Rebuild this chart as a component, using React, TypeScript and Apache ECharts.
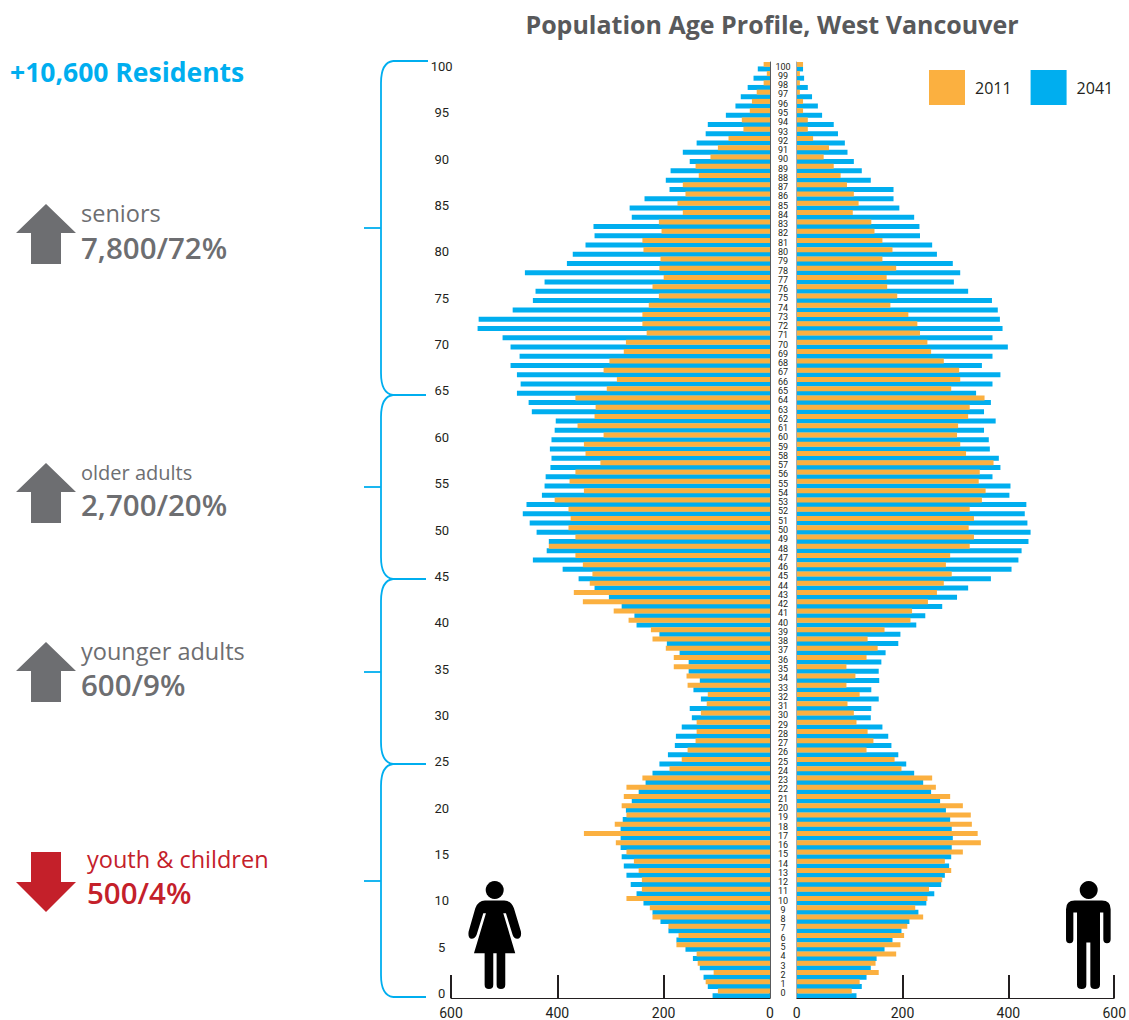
import React, { useEffect, useRef } from "react";
import * as echarts from "echarts";

const ages = Array.from({ length: 101 }, (_, i) => String(i));

// values listed from age 100 down to age 0
const female2011 = [12,6,12,25,34,38,53,50,78,98,112,140,134,164,159,174,164,209,204,240,238,206,208,200,221,
209,228,240,240,232,271,275,302,313,288,307,366,328,330,362,313,350,347,319,366,377,350,405,379,375,
379,366,416,366,352,334,339,369,352,294,266,224,221,196,181,181,157,155,117,119,130,138,138,140,155,166,
189,240,270,275,279,270,292,350,290,270,256,247,241,241,270,226,221,191,172,176,138,136,106,121,98];
const female2041 = [23,31,42,55,65,83,117,121,138,164,151,187,196,189,236,264,260,332,330,347,371,382,461,424,441,
446,484,548,550,503,488,471,488,476,469,476,454,448,403,405,411,414,411,413,422,424,429,458,465,452,
439,416,420,446,390,360,330,303,279,255,251,208,194,170,153,153,132,144,130,151,147,166,177,179,192,208,
221,234,247,260,271,277,281,281,281,279,275,270,262,251,238,221,206,191,176,159,145,132,125,117,108];
const male2011 = [12,6,6,6,12,12,21,21,31,61,51,70,83,95,108,117,106,141,147,162,181,162,188,170,171,
190,177,211,228,233,247,254,278,307,309,292,355,327,324,305,303,309,320,372,346,344,357,350,327,335,
325,335,327,290,282,293,278,265,248,218,215,166,134,153,132,94,111,94,119,96,108,113,134,145,132,185,
198,256,263,290,314,329,331,342,348,314,280,292,275,250,247,224,239,209,203,196,188,149,155,119,104];
const male2041 = [12,14,21,29,40,48,70,78,91,96,108,123,140,183,183,194,222,232,233,256,265,295,309,297,324,
369,380,384,389,370,399,370,350,385,370,339,367,354,376,354,363,365,382,385,370,404,402,434,431,436,
442,438,425,419,406,367,324,303,275,243,226,196,192,168,160,155,156,141,155,141,140,162,173,179,192,207,
222,239,254,271,282,290,293,295,293,292,288,280,273,260,245,230,213,198,181,166,151,140,132,123,113];

const years = ["2011", "2041"];
const xTicks = [0, 200, 400, 600];

const ORANGE = "#fbb040";
const BLUE = "#00aeef";
const GREY = "#6d6e71";
const RED = "#c4202a";
const UI = "'Open Sans', Lato, sans-serif";
const NARROW = "Roboto, 'Noto Sans', sans-serif";

const byAge = (a: number[]) => [...a].reverse();

const braces = [
  { top: 61, mid: 228, bottom: 395 },
  { top: 395, mid: 487, bottom: 579 },
  { top: 579, mid: 672, bottom: 764 },
  { top: 764, mid: 881, bottom: 997 },
];

const stats = [
  { y: 204, dir: 1, color: GREY, label: "seniors", size: 23.5, value: "7,800/72%", tx: 81, ly: 213, vy: 247 },
  { y: 463, dir: 1, color: GREY, label: "older adults", size: 20, value: "2,700/20%", tx: 81, ly: 472, vy: 504 },
  { y: 642, dir: 1, color: GREY, label: "younger adults", size: 23.5, value: "600/9%", tx: 81, ly: 651, vy: 684 },
  { y: 852, dir: -1, color: RED, label: "youth & children", size: 23.5, value: "500/4%", tx: 87, ly: 859, vy: 892 },
];

const WOMAN =
  "M135 422L193 422Q213 422 222 445L243 515Q246 535 232 537Q222 537 218 525L198 460L190 460L226 580L196 580L196 675Q196 688 183 688Q170 688 170 675L170 580L160 580L160 675Q160 688 147 688Q134 688 134 675L134 580L102 580L138 460L130 460L110 525Q105 537 95 537Q83 535 86 515L106 445Q115 422 135 422Z";
const MAN =
  "M945 422L1027 422Q1053 422 1053 448L1053 538Q1053 550 1042 550Q1031 550 1031 538L1031 458L1021 458L1021 675Q1021 688 1006 688Q992 688 992 675L992 548L980 548L980 675Q980 688 966 688Q952 688 952 675L952 458L941 458L941 538Q941 550 930 550Q919 550 919 538L919 448Q919 422 945 422Z";

echarts.graphic.registerShape("woman", echarts.graphic.extendPath(WOMAN, {}));
echarts.graphic.registerShape("man", echarts.graphic.extendPath(MAN, {}));

function braceElements() {
  const out: any[] = [];
  const line = { stroke: BLUE, lineWidth: 1.8, fill: "none" };
  const x = 381;
  for (const b of braces) {
    const r = 22;
    out.push({
      type: "bezierCurve", silent: true,
      shape: { x1: x + 12, y1: b.top, x2: x, y2: b.top + r, cpx1: x + 4, cpy1: b.top + 1, cpx2: x, cpy2: b.top + 9 },
      style: line,
    });
    out.push({ type: "line", silent: true, shape: { x1: x, y1: b.top + r, x2: x, y2: b.bottom - r }, style: line });
    out.push({
      type: "bezierCurve", silent: true,
      shape: { x1: x, y1: b.bottom - r, x2: x + 12, y2: b.bottom, cpx1: x, cpy1: b.bottom - 9, cpx2: x + 4, cpy2: b.bottom - 1 },
      style: line,
    });
    out.push({ type: "line", silent: true, shape: { x1: 364, y1: b.mid, x2: x, y2: b.mid }, style: line });
    out.push({ type: "line", silent: true, shape: { x1: x + 12, y1: b.bottom, x2: 426, y2: b.bottom }, style: line });
  }
  out.push({ type: "line", silent: true, shape: { x1: x + 12, y1: 61, x2: 428, y2: 61 }, style: line });
  return out;
}

function statElements() {
  const out: any[] = [];
  for (const s of stats) {
    const d = s.dir;
    const y0 = s.y;
    const pts =
      d > 0
        ? [[46, y0], [76, y0 + 29], [61, y0 + 29], [61, y0 + 60], [31, y0 + 60], [31, y0 + 29], [16, y0 + 29]]
        : [[31, y0], [61, y0], [61, y0 + 30], [76, y0 + 30], [46, y0 + 60], [16, y0 + 30], [31, y0 + 30]];
    out.push({ type: "polygon", silent: true, shape: { points: pts }, style: { fill: s.color } });
    out.push({
      type: "text", silent: true, x: s.tx, y: s.ly,
      style: { text: s.label, fill: s.color, font: `400 ${s.size}px ${UI}`, verticalAlign: "middle" },
    });
    out.push({
      type: "text", silent: true, x: s.tx, y: s.vy,
      style: { text: s.value, fill: s.color, font: `600 29.5px ${UI}`, verticalAlign: "middle" },
    });
  }
  return out;
}

export default function App() {
  const ref = useRef<HTMLDivElement>(null);
  useEffect(() => {
    const chart = echarts.init(ref.current!, undefined, { renderer: "svg" });
    const xAxisBase = {
      type: "value",
      min: 0,
      max: 600,
      interval: 200,
      position: "bottom",
      splitLine: { show: false },
      axisLine: { show: true, lineStyle: { color: "#231f20", width: 1 } },
      axisTick: { show: true, inside: true, length: 23, lineStyle: { color: "#231f20", width: 2 } },
      axisLabel: {
        margin: 8,
        color: "#231f20",
        fontFamily: NARROW,
        fontSize: 14,
        lineHeight: 14,
        formatter: (v: number) => (xTicks.includes(v) ? String(v) : ""),
      },
    };
    const bar = (name: string, data: number[], color: string, idx: number, z: number) => ({
      name,
      type: "bar",
      xAxisIndex: idx,
      yAxisIndex: idx,
      data,
      barWidth: 5,
      barGap: "-8%",
      z,
      itemStyle: { color },
      silent: true,
      animation: false,
    });
    chart.setOption({
      animation: false,
      title: {
        text: "Population Age Profile, West Vancouver",
        left: 767,
        top: 6,
        textAlign: "center",
        textStyle: { fontFamily: UI, fontWeight: 700, fontSize: 25, color: "#58595b" },
      },
      legend: {
        data: years,
        left: 929,
        top: 70,
        width: 195,
        padding: 0,
        itemWidth: 36,
        itemHeight: 35,
        itemGap: 19,
        icon: "rect",
        selectedMode: false,
        textStyle: { fontFamily: UI, fontSize: 16, color: "#231f20", padding: [0, 0, 0, 5] },
      },
      grid: [
        { left: 451, width: 319, top: 62, bottom: 22, containLabel: false },
        { left: 796.7, width: 319, top: 62, bottom: 22, containLabel: false },
      ],
      xAxis: [
        { ...xAxisBase, gridIndex: 0, inverse: true },
        { ...xAxisBase, gridIndex: 1 },
      ],
      yAxis: [
        {
          type: "category",
          gridIndex: 0,
          position: "right",
          data: ages,
          z: 4,
          axisLine: { show: true, onZero: false, lineStyle: { color: "#58595b", width: 1 } },
          axisTick: { show: false },
          axisLabel: {
            interval: 0,
            align: "center",
            margin: 13,
            fontFamily: NARROW,
            fontSize: 9,
            lineHeight: 9,
            color: "#231f20",
          },
        },
        {
          type: "category",
          gridIndex: 1,
          position: "left",
          data: ages,
          z: 4,
          axisLine: { show: true, onZero: false, lineStyle: { color: "#a7a9ac", width: 1 } },
          axisTick: { show: false },
          axisLabel: {
            interval: (i: number) => i % 5 === 0,
            align: "center",
            margin: 355,
            fontFamily: NARROW,
            fontSize: 13,
            color: "#231f20",
            padding: [0, 0, 16, 0],
          },
        },
      ],
      series: [
        bar("2011", byAge(female2011), ORANGE, 0, 3),
        bar("2041", byAge(female2041), BLUE, 0, 2),
        bar("2011", byAge(male2011), ORANGE, 1, 3),
        bar("2041", byAge(male2041), BLUE, 1, 2),
      ],
      graphic: {
        elements: [
          {
            type: "text", silent: true, x: 10, y: 72,
            style: { text: "+10,600 Residents", fill: BLUE, font: `700 26.5px ${UI}`, verticalAlign: "middle" },
          },
          ...braceElements(),
          ...statElements(),
          { type: "circle", silent: true, shape: { cx: 494.7, cy: 890, r: 9 }, style: { fill: "#000" } },
          { type: "woman", silent: true, x: 440, y: 760, scaleX: 1 / 3, scaleY: 1 / 3, style: { fill: "#000" } },
          { type: "circle", silent: true, shape: { cx: 1088.7, cy: 890, r: 9 }, style: { fill: "#000" } },
          { type: "man", silent: true, x: 760, y: 760, scaleX: 1 / 3, scaleY: 1 / 3, style: { fill: "#000" } },
        ],
      },
    });
    return () => chart.dispose();
  }, []);
  return <div ref={ref} style={{ position: "absolute", left: 0, top: 0, width: 1129, height: 1020 }} />;
}
